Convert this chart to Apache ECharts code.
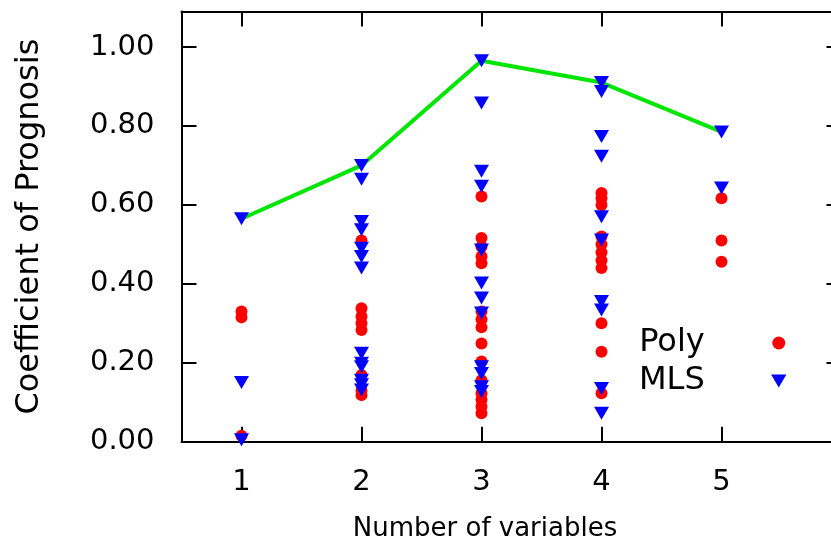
<!DOCTYPE html>
<html>
<head>
<meta charset="utf-8">
<title>Coefficient of Prognosis</title>
<script src="https://cdn.jsdelivr.net/npm/echarts@6/dist/echarts.min.js"></script>
<style>
  html, body { margin: 0; padding: 0; background: #fff; }
  #chart { width: 831px; height: 548px; }
</style>
</head>
<body>
<div id="chart"></div>
<script>
// Number of variables on the x axis
const variableCounts = [1, 2, 3, 4, 5];

// Coefficient of Prognosis per model, grouped by number of variables
const polyValues = [
  [0.33, 0.315, 0.015],
  [0.51, 0.338, 0.317, 0.30, 0.283, 0.169, 0.13, 0.118],
  [0.621, 0.516, 0.494, 0.469, 0.452, 0.33, 0.31, 0.29, 0.249, 0.203, 0.156, 0.123, 0.106, 0.089, 0.072],
  [0.63, 0.617, 0.60, 0.52, 0.50, 0.48, 0.46, 0.44, 0.30, 0.228, 0.123],
  [0.617, 0.51, 0.456]
];
const mlsValues = [
  [0.565, 0.15, 0.005],
  [0.70, 0.665, 0.558, 0.537, 0.49, 0.469, 0.44, 0.224, 0.199, 0.19, 0.156, 0.144, 0.131],
  [0.965, 0.858, 0.685, 0.647, 0.486, 0.402, 0.364, 0.326, 0.19, 0.173, 0.139, 0.127],
  [0.91, 0.887, 0.773, 0.723, 0.57, 0.511, 0.355, 0.334, 0.135, 0.072],
  [0.785, 0.643]
];
// Best coefficient reached for each number of variables
const bestValues = [0.565, 0.70, 0.965, 0.91, 0.785];

// Tick labels
const yTickValues = [0, 0.2, 0.4, 0.6, 0.8, 1.0];
const xTickValues = [1, 2, 3, 4, 5];

const seriesNames = ['Poly', 'MLS'];

function pairs(groups) {
  const out = [];
  groups.forEach((vals, i) => vals.forEach(v => out.push([variableCounts[i], v])));
  return out;
}

const FONT = 'DejaVu Sans';
const downTriangle = 'path://M0,0L20,0L10,17Z';

const chart = echarts.init(document.getElementById('chart'), null, { renderer: 'canvas' });

// Closed frame: every side has a black line with ticks pointing into the plot
function axisLine() { return { show: true, onZero: false, lineStyle: { color: '#000', width: 2 } }; }
function ticks() { return { show: true, inside: true, length: 15, lineStyle: { color: '#000', width: 2 } }; }

chart.setOption({
  animation: false,
  backgroundColor: '#fff',
  textStyle: { fontFamily: FONT, color: '#000' },
  grid: {
    left: 181.5, right: -10.5, top: 11.5, bottom: 106.3,
    containLabel: false, outerBoundsMode: 'none'
  },
  legend: {
    data: [
      { name: seriesNames[0], icon: 'circle' },
      { name: seriesNames[1], icon: downTriangle }
    ],
    orient: 'vertical',
    align: 'right',
    left: 634,
    top: 322,
    itemWidth: 138,
    itemHeight: 13,
    itemGap: 6,
    symbolKeepAspect: true,
    selectedMode: false,
    textStyle: { fontFamily: FONT, fontSize: 32, color: '#000' }
  },
  xAxis: [
    {
      type: 'value', min: 0.5, max: 6, splitNumber: 5, position: 'bottom',
      name: 'Number of variables', nameLocation: 'middle', nameGap: 75,
      nameTextStyle: { fontFamily: FONT, fontSize: 26, color: '#000', padding: [0, 53, 0, 0] },
      axisLine: axisLine(),
      axisTick: ticks(),
      splitLine: { show: false },
      axisLabel: {
        fontFamily: FONT, fontSize: 29, color: '#000', margin: 26,
        showMinLabel: false, showMaxLabel: false,
        formatter: v => xTickValues.indexOf(v) >= 0 ? String(v) : ''
      }
    },
    {
      type: 'value', min: 0.5, max: 6, splitNumber: 5, position: 'top',
      axisLine: axisLine(),
      axisTick: ticks(),
      splitLine: { show: false },
      axisLabel: { show: false }
    }
  ],
  yAxis: [
    {
      type: 'value', min: 0, max: 1.09, interval: 0.2, position: 'left',
      name: 'Coefficient of Prognosis', nameLocation: 'middle', nameGap: 136,
      nameTextStyle: { fontFamily: FONT, fontSize: 32, color: '#000' },
      axisLine: axisLine(),
      axisTick: ticks(),
      splitLine: { show: false },
      axisLabel: {
        fontFamily: FONT, fontSize: 29, color: '#000', margin: 27,
        showMaxLabel: false,
        formatter: v => yTickValues.some(t => Math.abs(t - v) < 1e-9) ? v.toFixed(2) : ''
      }
    },
    {
      type: 'value', min: 0, max: 1.09, interval: 0.2, position: 'right',
      axisLine: axisLine(),
      axisTick: ticks(),
      splitLine: { show: false },
      axisLabel: { show: false }
    }
  ],
  series: [
    {
      name: 'best',
      type: 'line',
      data: bestValues.map((v, i) => [variableCounts[i], v]),
      symbol: 'none',
      lineStyle: { color: '#00e600', width: 4 },
      z: 1
    },
    {
      name: seriesNames[0],
      type: 'scatter',
      data: pairs(polyValues),
      symbol: 'circle',
      symbolSize: 12,
      itemStyle: { color: '#ff0000', opacity: 1 },
      z: 2
    },
    {
      name: seriesNames[1],
      type: 'scatter',
      data: pairs(mlsValues),
      symbol: downTriangle,
      symbolSize: [15, 13],
      itemStyle: { color: '#0000ff', opacity: 1 },
      z: 3
    }
  ]
});
</script>
</body>
</html>
